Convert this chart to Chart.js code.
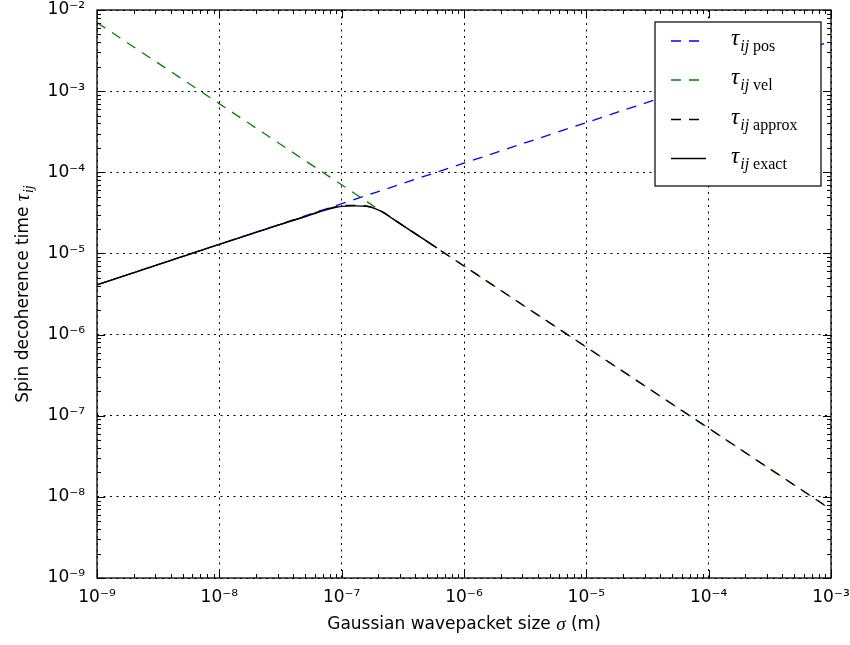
<!DOCTYPE html>
<html>
<head>
<meta charset="utf-8">
<script src="https://cdn.jsdelivr.net/npm/chart.js@4.4.1/dist/chart.umd.min.js"></script>
<style>
  html, body { margin: 0; padding: 0; background: #fff; }
</style>
</head>
<body>
<canvas id="grafico" width="850" height="645"></canvas>
<script>
// valores (eixos log-log)
const sigmaPos = [1e-9, 1e-3];
const tauPos = [4.1e-6, 4.1e-3];

const sigmaVel = [1e-9, 1e-3];
const tauVel = [7.0e-3, 7.0e-9];

const sigmaApprox = [1e-9, 1e-8, 3e-8, 5e-8, 7e-8, 8.5e-8, 1e-7, 1.3e-7, 1.6e-7, 1.85e-7, 2.2e-7, 2.6e-7, 3e-7, 5e-7, 1e-6, 1e-3];
const tauApprox = [4.1e-6, 1.3e-5, 2.23e-5, 2.85e-5, 3.4e-5, 3.7e-5, 3.88e-5, 3.92e-5, 3.84e-5, 3.62e-5, 3.2e-5, 2.7e-5, 2.33e-5, 1.4e-5, 7.0e-6, 7.0e-9];

const sigmaExact = [1e-9, 1e-8, 3e-8, 5e-8, 7e-8, 8.5e-8, 1e-7, 1.3e-7, 1.6e-7, 1.85e-7, 2.2e-7, 2.6e-7, 3e-7, 4e-7, 6e-7];
const tauExact = [4.1e-6, 1.29e-5, 2.22e-5, 2.83e-5, 3.35e-5, 3.62e-5, 3.8e-5, 3.86e-5, 3.8e-5, 3.6e-5, 3.18e-5, 2.69e-5, 2.33e-5, 1.75e-5, 1.17e-5];

const xTicks = [1e-9, 1e-8, 1e-7, 1e-6, 1e-5, 1e-4, 1e-3];
const yTicks = [1e-9, 1e-8, 1e-7, 1e-6, 1e-5, 1e-4, 1e-3, 1e-2];

const legendSubs = ['pos', 'vel', 'approx', 'exact'];

const SUP = { '-': '⁻', '0': '⁰', '1': '¹', '2': '²', '3': '³', '4': '⁴', '5': '⁵', '6': '⁶', '7': '⁷', '8': '⁸', '9': '⁹' };
function potencia(v) {
    const e = Math.round(Math.log10(v));
    return '10' + String(e).split('').map(c => SUP[c]).join('');
}

function pares(xs, ys) {
    return xs.map((x, i) => ({ x, y: ys[i] }));
}

const DASH = [10, 8];

// tau com subscrito, em fonte serifada (estilo mathtext)
function desenhaTau(ctx, x, y, size, sub) {
    ctx.font = `italic ${size}px "Liberation Serif"`;
    ctx.fillText('τ', x, y);
    let cx = x + ctx.measureText('τ').width + 1;
    const s = Math.round(size * 0.7);
    ctx.font = `italic ${s}px "Liberation Serif"`;
    ctx.fillText('ij', cx, y + size * 0.28);
    cx += ctx.measureText('ij').width;
    if (sub) {
        ctx.font = `${s}px "Liberation Serif"`;
        ctx.fillText(' ' + sub, cx, y + size * 0.28);
        cx += ctx.measureText(' ' + sub).width;
    }
    return cx - x;
}

const decorPlugin = {
    id: 'decor',
    afterDraw(chart) {
        const { ctx, chartArea: a, scales: { x, y } } = chart;
        ctx.save();
        ctx.strokeStyle = '#000';
        ctx.lineWidth = 1;
        ctx.setLineDash([]);

        // ticks para dentro, nos 4 lados
        const mult = [2, 3, 4, 5, 6, 7, 8, 9];
        ctx.beginPath();
        xTicks.forEach((t, i) => {
            const px = Math.round(x.getPixelForValue(t)) + 0.5;
            ctx.moveTo(px, a.bottom); ctx.lineTo(px, a.bottom - 8);
            ctx.moveTo(px, a.top); ctx.lineTo(px, a.top + 8);
            if (i < xTicks.length - 1) mult.forEach(m => {
                const p = Math.round(x.getPixelForValue(t * m)) + 0.5;
                ctx.moveTo(p, a.bottom); ctx.lineTo(p, a.bottom - 4);
                ctx.moveTo(p, a.top); ctx.lineTo(p, a.top + 4);
            });
        });
        yTicks.forEach((t, i) => {
            const py = Math.round(y.getPixelForValue(t)) + 0.5;
            ctx.moveTo(a.left, py); ctx.lineTo(a.left + 8, py);
            ctx.moveTo(a.right, py); ctx.lineTo(a.right - 8, py);
            if (i < yTicks.length - 1) mult.forEach(m => {
                const p = Math.round(y.getPixelForValue(t * m)) + 0.5;
                ctx.moveTo(a.left, p); ctx.lineTo(a.left + 4, p);
                ctx.moveTo(a.right, p); ctx.lineTo(a.right - 4, p);
            });
        });
        ctx.stroke();

        // moldura
        ctx.lineWidth = 1.3;
        ctx.strokeRect(a.left, a.top, a.right - a.left, a.bottom - a.top);

        // legenda
        const bx = a.right - 176, by = a.top + 12, bw = 166, bh = 164;
        ctx.fillStyle = '#fff';
        ctx.fillRect(bx, by, bw, bh);
        ctx.lineWidth = 1.2;
        ctx.strokeRect(bx, by, bw, bh);
        const rows = [19, 58, 97.5, 136.5];
        chart.data.datasets.forEach((ds, i) => {
            const ry = by + rows[i];
            ctx.strokeStyle = ds.borderColor;
            ctx.lineWidth = ds.borderWidth;
            ctx.setLineDash(ds.borderDash || []);
            ctx.beginPath();
            ctx.moveTo(bx + 16, ry);
            ctx.lineTo(bx + (ds.borderDash ? 48 : 51), ry);
            ctx.stroke();
            ctx.setLineDash([]);
            ctx.fillStyle = '#000';
            ctx.textBaseline = 'alphabetic';
            ctx.textAlign = 'left';
            desenhaTau(ctx, bx + 76, ry + 4, 23, legendSubs[i]);
        });

        // titulo do eixo x
        ctx.fillStyle = '#000';
        ctx.textBaseline = 'middle';
        ctx.textAlign = 'left';
        const t1 = 'Gaussian wavepacket size ', t2 = 'σ', t3 = ' (m)';
        ctx.font = '17px "DejaVu Sans"';
        const w1 = ctx.measureText(t1).width, w3 = ctx.measureText(t3).width;
        ctx.font = 'italic 19px "Liberation Serif"';
        const w2 = ctx.measureText(t2).width;
        const cx = (a.left + a.right) / 2;
        let sx = cx - (w1 + w2 + w3) / 2;
        const ty = 625;
        ctx.font = '17px "DejaVu Sans"';
        ctx.fillText(t1, sx, ty);
        ctx.font = 'italic 19px "Liberation Serif"';
        ctx.fillText(t2, sx + w1, ty);
        ctx.font = '17px "DejaVu Sans"';
        ctx.fillText(t3, sx + w1 + w2, ty);

        // titulo do eixo y
        ctx.save();
        ctx.translate(24, (a.top + a.bottom) / 2);
        ctx.rotate(-Math.PI / 2);
        ctx.textBaseline = 'middle';
        const y1 = 'Spin decoherence time ';
        ctx.font = '17px "DejaVu Sans"';
        const wy1 = ctx.measureText(y1).width;
        ctx.font = 'italic 20px "Liberation Serif"';
        const wt = ctx.measureText('τ').width + 1;
        ctx.font = 'italic 14px "Liberation Serif"';
        const wij = ctx.measureText('ij').width;
        const sy = -(wy1 + wt + wij) / 2;
        ctx.font = '17px "DejaVu Sans"';
        ctx.fillText(y1, sy, 0);
        desenhaTau(ctx, sy + wy1, 0, 20, '');
        ctx.restore();

        ctx.restore();
    }
};

const eixo = (min, max, ticks, tamanho, ehX) => ({
    type: 'logarithmic',
    min, max,
    afterBuildTicks: axis => { axis.ticks = ticks.map(v => ({ value: v })); },
    afterFit: axis => {
        if (ehX) axis.height = tamanho; else axis.width = tamanho;
        axis.paddingTop = 0; axis.paddingBottom = 0;
        axis.paddingLeft = 0; axis.paddingRight = 0;
    },
    ticks: {
        callback: v => potencia(v),
        color: '#000',
        font: { family: 'DejaVu Sans', size: 17 },
        padding: ehX ? 9 : 12,
        autoSkip: false,
        maxRotation: 0
    },
    grid: { color: '#000', lineWidth: 1, drawTicks: false },
    border: { display: false, dash: [2, 4.5] },
    title: { display: false }
});

new Chart(document.getElementById('grafico').getContext('2d'), {
    type: 'line',
    data: {
        datasets: [
            { label: 'pos', data: pares(sigmaPos, tauPos), borderColor: '#0000ff', borderWidth: 1.3, borderDash: DASH, pointRadius: 0, fill: false, order: 4 },
            { label: 'vel', data: pares(sigmaVel, tauVel), borderColor: '#008000', borderWidth: 1.3, borderDash: DASH, pointRadius: 0, fill: false, order: 3 },
            { label: 'approx', data: pares(sigmaApprox, tauApprox), borderColor: '#000000', borderWidth: 1.3, borderDash: DASH, borderDashOffset: 9, pointRadius: 0, fill: false, cubicInterpolationMode: 'monotone', order: 2 },
            { label: 'exact', data: pares(sigmaExact, tauExact), borderColor: '#000000', borderWidth: 1.4, pointRadius: 0, fill: false, cubicInterpolationMode: 'monotone', order: 1 }
        ]
    },
    options: {
        responsive: false,
        animation: false,
        devicePixelRatio: 1,
        layout: { padding: { top: 10, right: 19, left: 0, bottom: 0 } },
        plugins: { legend: { display: false }, tooltip: { enabled: false } },
        scales: {
            x: eixo(1e-9, 1e-3, xTicks, 67, true),
            y: eixo(1e-9, 1e-2, yTicks, 97, false)
        }
    },
    plugins: [decorPlugin]
});
</script>
</body>
</html>
